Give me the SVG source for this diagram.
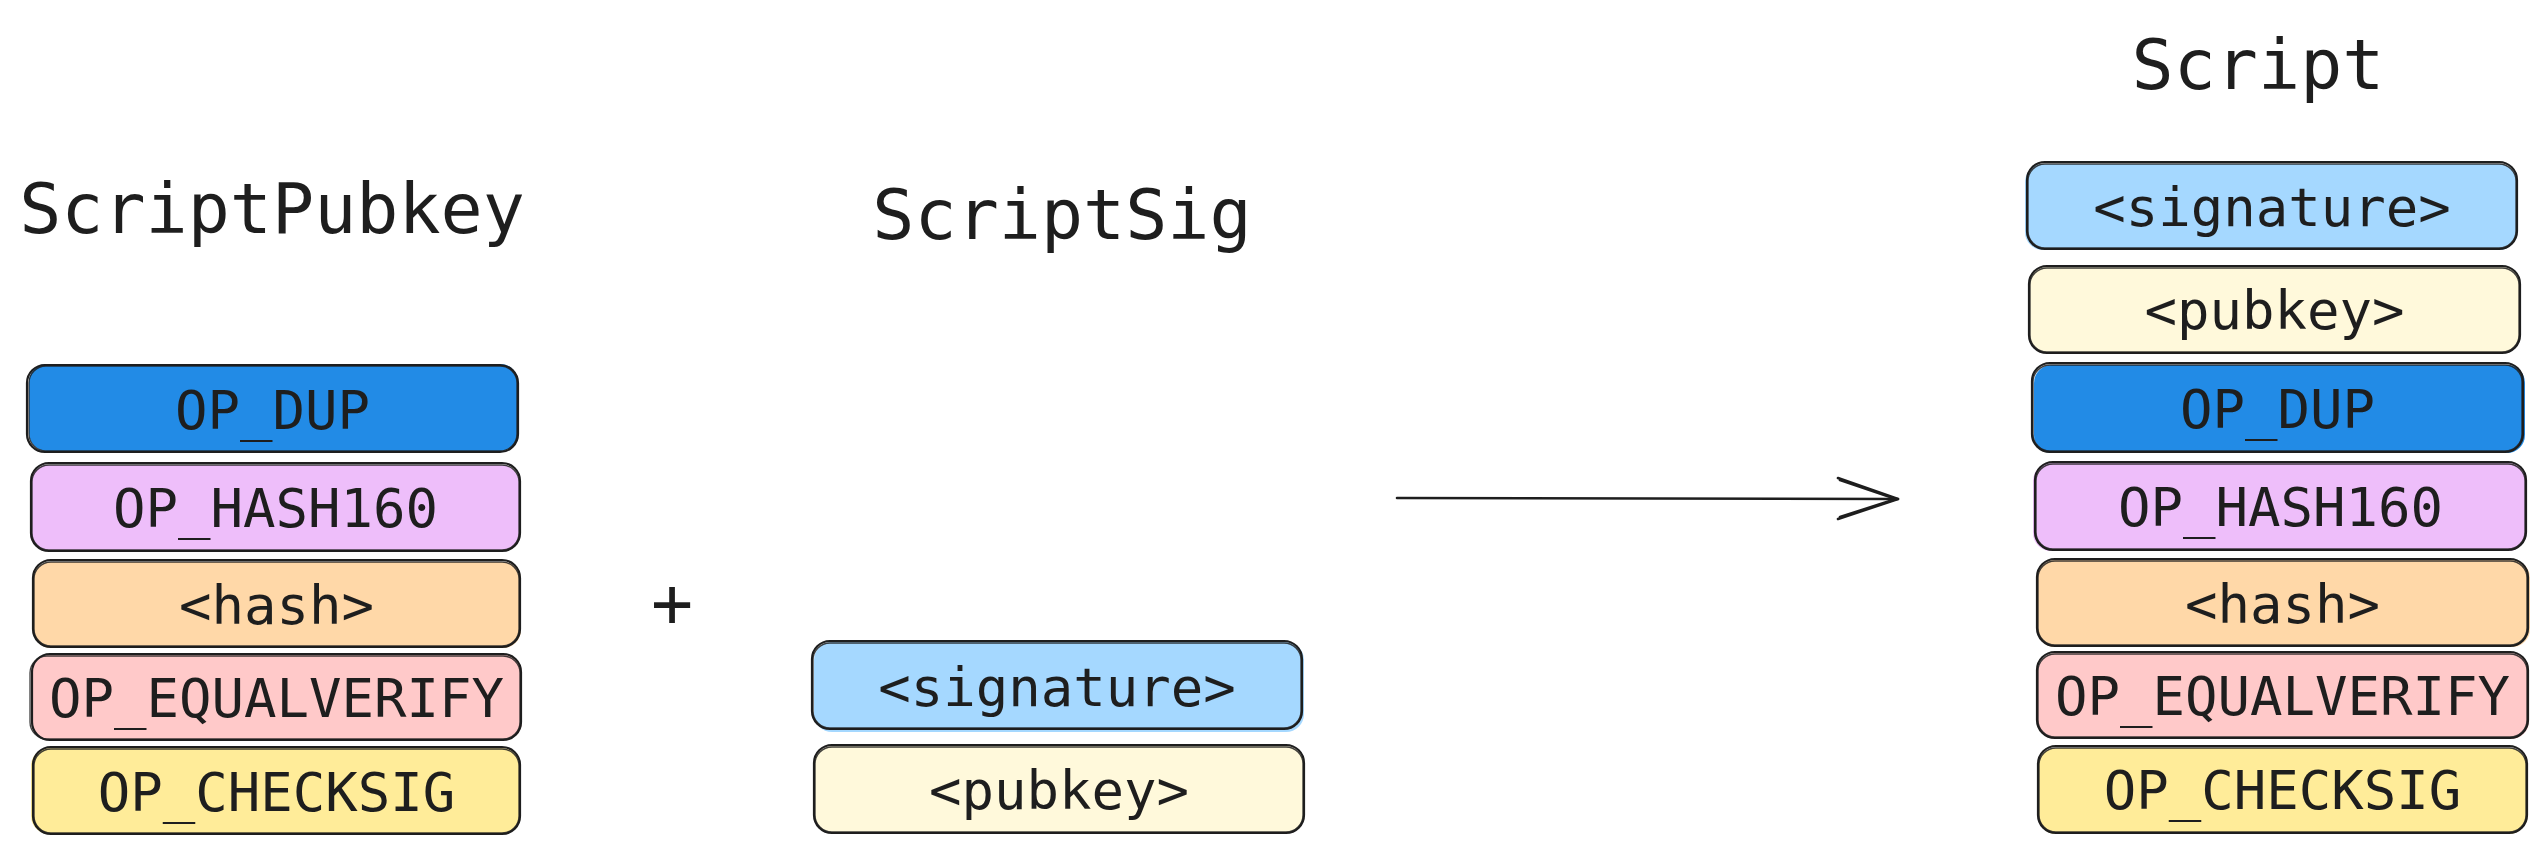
<svg xmlns="http://www.w3.org/2000/svg" width="2547" height="854" viewBox="0 0 2547 854">
<style>
.bg{fill:#ffffff}
.t{font-family:"DejaVu Sans Mono","Liberation Mono",monospace;fill:#1e1e1e;text-anchor:middle}
.title{font-size:70px}
.lbl{font-size:54px}
.s{fill:none;stroke:#1e1e1e;stroke-width:2.2}
.s2{fill:none;stroke:#1e1e1e;stroke-width:1.3;opacity:0.85}
.dup{fill:#228be6}
.h160{fill:#eebefa}
.hash{fill:#ffd8a8}
.eqv{fill:#ffc9c9}
.chk{fill:#ffec99}
.sig{fill:#a5d8ff}
.pub{fill:#fff9db}
.conn{fill:none;stroke:#1e1e1e;stroke-width:2.6;stroke-linecap:round;stroke-linejoin:round}
</style>
<rect class="bg" x="0" y="0" width="2547" height="854"/>

<g id="title-scriptpubkey"><text class="t title" x="272" y="233">ScriptPubkey</text></g>
<g id="title-scriptsig"><text class="t title" x="1062" y="239">ScriptSig</text></g>
<g id="title-script"><text class="t title" x="2258" y="89">Script</text></g>
<g id="plus"><text class="t title" x="672" y="627">+</text></g>

<!-- Left column: ScriptPubkey -->
<g id="pk-op-dup">
<rect class="dup" x="29" y="364" width="489" height="87" rx="18"/>
<rect class="s" x="27" y="365" width="491" height="87" rx="18"/>
<rect class="s2" x="29" y="366" width="488" height="85" rx="17"/>
<text class="t lbl" x="272.5" y="429">OP_DUP</text>
</g>
<g id="pk-op-hash160">
<rect class="h160" x="30" y="465" width="489" height="86" rx="18"/>
<rect class="s" x="31" y="463" width="489" height="88" rx="18"/>
<rect class="s2" x="32" y="465" width="487" height="85" rx="17"/>
<text class="t lbl" x="275.5" y="527">OP_HASH160</text>
</g>
<g id="pk-hash">
<rect class="hash" x="33" y="562" width="488" height="86" rx="18"/>
<rect class="s" x="33" y="560" width="487" height="87" rx="18"/>
<rect class="s2" x="34" y="562" width="485" height="84" rx="17"/>
<text class="t lbl" x="276.5" y="624">&lt;hash&gt;</text>
</g>
<g id="pk-op-equalverify">
<rect class="eqv" x="32" y="655" width="490" height="85" rx="18"/>
<rect class="s" x="32" y="654" width="489" height="86" rx="18"/>
<rect class="s2" x="30" y="656" width="490" height="83" rx="17"/>
<text class="t lbl" x="276.5" y="717">OP_EQUALVERIFY</text>
</g>
<g id="pk-op-checksig">
<rect class="chk" x="31" y="748" width="489" height="86" rx="18"/>
<rect class="s" x="33" y="747" width="487" height="87" rx="18"/>
<rect class="s2" x="34" y="749" width="485" height="84" rx="17"/>
<text class="t lbl" x="276.5" y="811">OP_CHECKSIG</text>
</g>

<!-- Middle column: ScriptSig -->
<g id="ss-signature">
<rect class="sig" x="814" y="642" width="490" height="90" rx="18"/>
<rect class="s" x="812" y="641" width="490" height="88" rx="18"/>
<rect class="s2" x="813" y="643" width="488" height="85" rx="17"/>
<text class="t lbl" x="1057" y="706">&lt;signature&gt;</text>
</g>
<g id="ss-pubkey">
<rect class="pub" x="814" y="746" width="490" height="87" rx="18"/>
<rect class="s" x="814" y="745" width="490" height="88" rx="18"/>
<rect class="s2" x="815" y="747" width="488" height="85" rx="17"/>
<text class="t lbl" x="1059" y="809">&lt;pubkey&gt;</text>
</g>

<!-- Right column: Script -->
<g id="sc-signature">
<rect class="sig" x="2025" y="164" width="492" height="86" rx="18"/>
<rect class="s" x="2027" y="162" width="490" height="87" rx="18"/>
<rect class="s2" x="2028" y="164" width="488" height="84" rx="17"/>
<text class="t lbl" x="2272" y="226">&lt;signature&gt;</text>
</g>
<g id="sc-pubkey">
<rect class="pub" x="2029" y="266" width="491" height="87" rx="18"/>
<rect class="s" x="2029" y="266" width="491" height="87" rx="18"/>
<rect class="s2" x="2030" y="268" width="489" height="84" rx="17"/>
<text class="t lbl" x="2274.5" y="329">&lt;pubkey&gt;</text>
</g>
<g id="sc-op-dup">
<rect class="dup" x="2034" y="365" width="491" height="88" rx="18"/>
<rect class="s" x="2032" y="363" width="491" height="89" rx="18"/>
<rect class="s2" x="2033" y="365" width="489" height="86" rx="17"/>
<text class="t lbl" x="2277.5" y="428">OP_DUP</text>
</g>
<g id="sc-op-hash160">
<rect class="h160" x="2033" y="463" width="493" height="88" rx="18"/>
<rect class="s" x="2035" y="462" width="491" height="88" rx="18"/>
<rect class="s2" x="2036" y="464" width="489" height="85" rx="17"/>
<text class="t lbl" x="2280.5" y="526">OP_HASH160</text>
</g>
<g id="sc-hash">
<rect class="hash" x="2037" y="560" width="493" height="87" rx="18"/>
<rect class="s" x="2037" y="559" width="491" height="87" rx="18"/>
<rect class="s2" x="2038" y="561" width="489" height="84" rx="17"/>
<text class="t lbl" x="2282.5" y="623">&lt;hash&gt;</text>
</g>
<g id="sc-op-equalverify">
<rect class="eqv" x="2038" y="653" width="491" height="86" rx="18"/>
<rect class="s" x="2037" y="652" width="491" height="86" rx="18"/>
<rect class="s2" x="2038" y="654" width="489" height="83" rx="17"/>
<text class="t lbl" x="2282.5" y="715">OP_EQUALVERIFY</text>
</g>
<g id="sc-op-checksig">
<rect class="chk" x="2038" y="748" width="489" height="86" rx="18"/>
<rect class="s" x="2038" y="746" width="489" height="87" rx="18"/>
<rect class="s2" x="2039" y="748" width="487" height="84" rx="17"/>
<text class="t lbl" x="2282.5" y="809">OP_CHECKSIG</text>
</g>

<g id="connectors">
<path class="conn" d="M1397 498 L1898 499"/>
<path class="conn" d="M1838 478 L1898 499 L1838 519"/>
<path class="conn" d="M1840 480 L1896 499 L1840 517" stroke-width="1.4"/>
</g>
</svg>
